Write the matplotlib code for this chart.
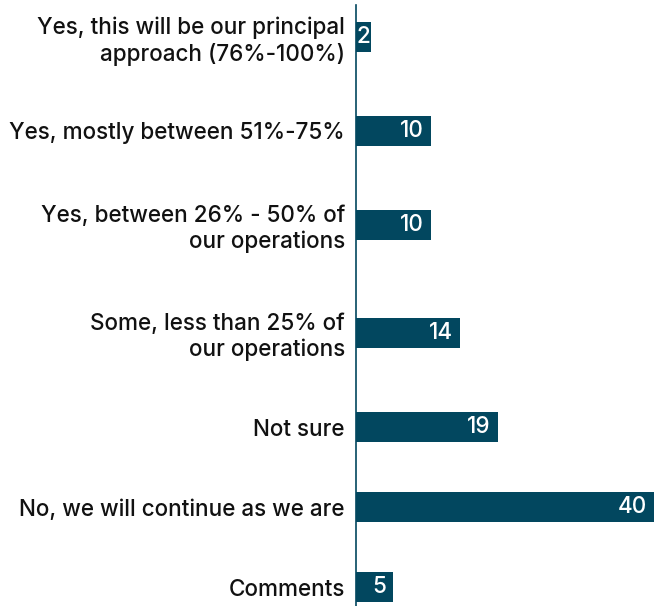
import matplotlib.pyplot as plt

categories = [
    "Yes, this will be our principal\napproach (76%-100%)",
    "Yes, mostly between 51%-75%",
    "Yes, between 26% - 50% of\nour operations",
    "Some, less than 25% of\nour operations",
    "Not sure",
    "No, we will continue as we are",
    "Comments",
]
counts = [2, 10, 10, 14, 19, 40, 5]

BAR_COLOR = "#02475f"
TEXT_COLOR = "#111111"

plt.rcParams["font.family"] = ["Inter", "DejaVu Sans"]

# rows with two-line labels get a bit more room, like the original layout
lines = [c.count("\n") + 1 for c in categories]
pos = [0]
for a, b in zip(lines[:-1], lines[1:]):
    pos.append(pos[-1] + 52 + 14 * (a + b))

fig = plt.figure(figsize=(6.54, 6.06), dpi=100)
ax = fig.add_axes([356 / 654, 0, 298 / 654, 601 / 606])

ax.barh(pos, counts, height=30, color=BAR_COLOR)
ax.set_xlim(0, 40)
ax.set_ylim(pos[-1] + 19, -32)

for y, v in zip(pos, counts):
    if v < 5:
        ax.annotate(str(v), (v / 2, y), ha="center", va="center",
                    color="white", fontsize=16.2, fontweight="medium")
    else:
        ax.annotate(str(v), (v, y), xytext=(-5, 0), textcoords="offset points",
                    ha="right", va="center", color="white", fontsize=16.2,
                    fontweight="medium")

ax.set_yticks(pos)
ax.set_yticklabels(categories, fontsize=16.2, color=TEXT_COLOR, linespacing=1.2,
                   fontweight="medium")
ax.tick_params(axis="y", length=0, pad=8)
ax.set_xticks([])

for side in ["top", "right", "bottom"]:
    ax.spines[side].set_visible(False)
ax.spines["left"].set_color(BAR_COLOR)
ax.spines["left"].set_linewidth(1.2)

fig.savefig("out.png", dpi=100)
